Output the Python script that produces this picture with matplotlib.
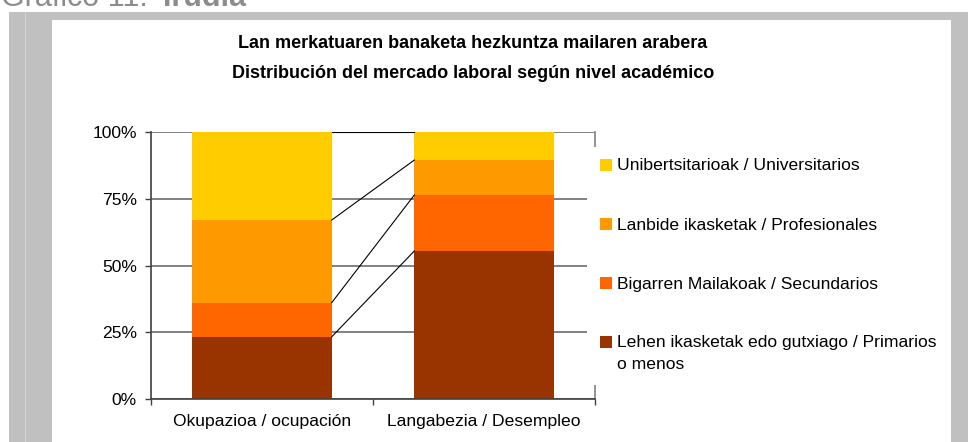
"""
Grafico 11: lan merkatuaren banaketa hezkuntza mailaren arabera.
Stacked 100% columns with series lines between the two bars.
"""

import numpy as np
import matplotlib
matplotlib.use("Agg")
import matplotlib.pyplot as plt
from matplotlib.patches import Rectangle

plt.rcParams['font.family'] = ['Liberation Sans', 'DejaVu Sans']

# data (percent of each column)
categories = ["Okupazioa / ocupación", "Langabezia / Desempleo"]
series_names = [
    "Lehen ikasketak edo gutxiago / Primarios\no menos",
    "Bigarren Mailakoak / Secundarios",
    "Lanbide ikasketak / Profesionales",
    "Unibertsitarioak / Universitarios",
]
primarios = [23.3, 55.5]
secundarios = [12.8, 21.0]
profesionales = [31.0, 13.1]
universitarios = [32.9, 10.4]
series_colors = ["#993300", "#FF6600", "#FF9900", "#FFCC00"]
y_ticks = [0, 25, 50, 75, 100]
y_tick_labels = ["0%", "25%", "50%", "75%", "100%"]

title_eu = "Lan merkatuaren banaketa hezkuntza mailaren arabera"
title_es = "Distribución del mercado laboral según nivel académico"

W, H = 968, 442


def fx(px):
    return px / W


def fy(py):
    return 1 - py / H


fig = plt.figure(figsize=(W / 100, H / 100), dpi=100)
fig.patch.set_facecolor("white")

# grey page frame around the white chart area
fig.patches.append(Rectangle((fx(9), 0), fx(W) - fx(9), fy(12), transform=fig.transFigure,
                             facecolor="#c0c0c0", edgecolor="none", zorder=-10))
fig.patches.append(Rectangle((fx(25), 0), 1.2 / W, fy(12), transform=fig.transFigure,
                             facecolor="#d4d4d4", edgecolor="none", zorder=-9))
fig.patches.append(Rectangle((fx(52), 0), fx(951) - fx(52), fy(20), transform=fig.transFigure,
                             facecolor="white", edgecolor="none", zorder=-8))

# page caption, cut off at the top of the image (as in the source page)
fig.text(fx(1), fy(6), "Grafico 11:", fontsize=22, color="#8c8c8c", va="baseline", ha="left")
fig.text(fx(163), fy(6), "Irudia", fontsize=22, color="#8c8c8c", va="baseline", ha="left",
         fontweight="bold")

# chart title
fig.text(fx(473), fy(44), title_eu, fontsize=13, fontweight="bold", ha="center", va="center")
fig.text(fx(473), fy(73), title_es, fontsize=13, fontweight="bold", ha="center", va="center")

ax = fig.add_axes([fx(150.7), fy(399), (595.3 - 150.7) / W, (399 - 132.3) / H])
ax.set_facecolor("white")

x = np.arange(len(categories))
bar_w = 0.628
stack = [primarios, secundarios, profesionales, universitarios]
bottom = np.zeros(len(categories))
tops = []
for vals, col in zip(stack, series_colors):
    vals = np.array(vals)
    ax.bar(x, vals, bar_w, bottom=bottom, color=col, edgecolor="none", zorder=2)
    bottom = bottom + vals
    tops.append(bottom.copy())

# series lines joining the two columns
for t in tops:
    ax.plot([x[0] + bar_w / 2, x[1] - bar_w / 2], [t[0], t[1]], color="black",
            linewidth=0.8, zorder=3)

ax.set_xlim(-0.5, 1.5)
ax.set_ylim(0, 100)
ax.set_yticks(y_ticks)
ax.set_yticklabels(y_tick_labels, fontsize=12.6)
ax.yaxis.grid(True, color="#808080", linewidth=1.4, zorder=1)
ax.set_axisbelow(True)

ax.set_xticks(x)
ax.set_xticklabels(categories, fontsize=12.6)
ax.set_xticks([-0.5, 0.5, 1.5], minor=True)
ax.tick_params(axis="x", which="major", length=0, pad=11)
ax.tick_params(axis="x", which="minor", length=4, width=1, color="#404040", direction="out")
ax.tick_params(axis="y", length=4, width=1, color="#404040", direction="out", pad=6)

for side in ["left", "bottom", "right"]:
    ax.spines[side].set_color("#404040")
    ax.spines[side].set_linewidth(1.2)
ax.spines["top"].set_visible(False)
ax.spines["right"].set_color("#808080")

# legend: white box over the right part of the plot area
fig.patches.append(Rectangle((fx(587), fy(385)), fx(940) - fx(587), (385 - 147) / H,
                             transform=fig.transFigure, facecolor="white", edgecolor="none",
                             zorder=5))
row_y = [342, 283, 224, 165]
for name, col, ry in zip(series_names, series_colors, row_y):
    fig.patches.append(Rectangle((fx(600), fy(ry + 6)), 12 / W, 12 / H, transform=fig.transFigure,
                                 facecolor=col, edgecolor="none", zorder=6))
    fig.text(fx(617), fy(ry - 6.5), name, fontsize=12.6, ha="left", va="top",
             linespacing=1.55, zorder=6)

fig.savefig("out.png", dpi=100)
